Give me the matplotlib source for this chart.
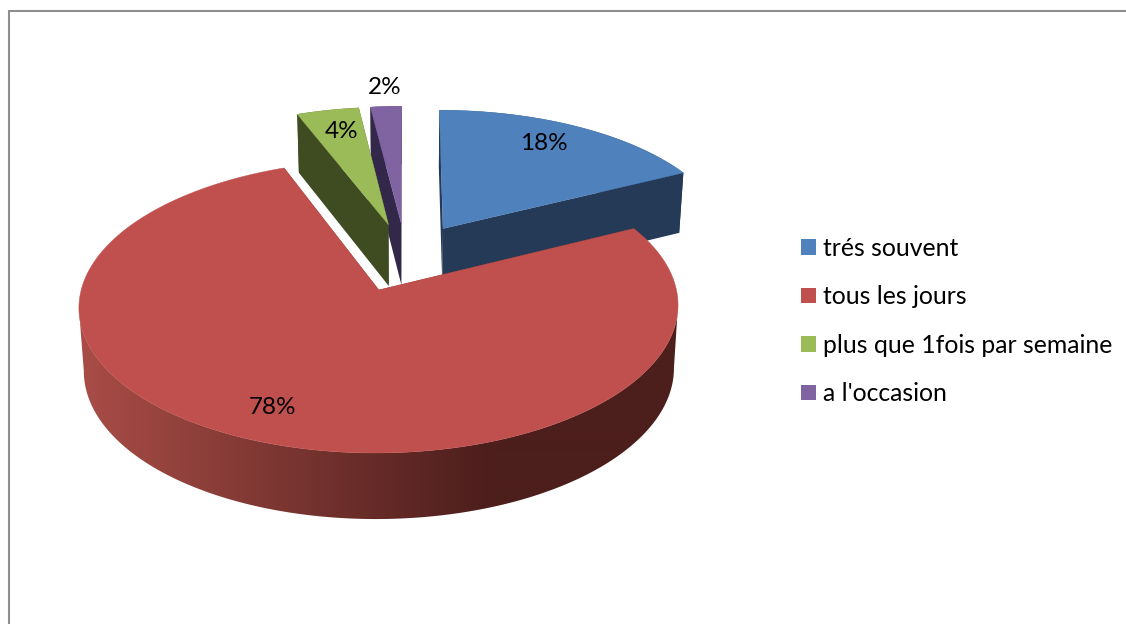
"""Exploded 3D pie of how often respondents do the activity."""

import matplotlib

matplotlib.use("Agg")

import matplotlib.pyplot as plt
import numpy as np
from matplotlib.patches import Patch, Polygon

categories = ["trés souvent", "tous les jours", "plus que 1fois par semaine", "a l'occasion"]
values = [18, 78, 4, 2]
percent_labels = ["18%", "78%", "4%", "2%"]

top_colors = ["#4F81BD", "#C0504D", "#9BBB59", "#8064A2"]
side_colors = ["#243A56", "#4E1F1D", "#3F4C22", "#34284A"]

# projection of the pie plane onto the pixel grid of the picture
CX, CY = 405.7, 257.1
RX, RY = 290.0, 137.3
PERSP = 0.11
EXPLODE = 0.25
DEPTH = 62.0
DEPTH_PERSP = 0.05
BOTTOM_SCALE = 0.985

LABEL_XY = [(544, 143), (272, 407), (342, 131), (385, 87)]

# red rim shading, pixel x against colour
SHADE_X = [85, 490, 690]
SHADE_R = [168, 76, 76]
SHADE_G = [76, 30, 30]
SHADE_B = [70, 28, 28]


def project(wx, wy):
    """Map pie-plane coordinates to pixel positions on the top face."""
    wx = np.asarray(wx, dtype=float)
    wy = np.asarray(wy, dtype=float)
    denom = 1 + PERSP * wy
    return CX + RX * wx / denom, CY - RY * wy / denom


def lower(wx, wy):
    """Same point on the bottom face of the disc."""
    x, y = project(wx, wy)
    return CX + (x - CX) * BOTTOM_SCALE, y + DEPTH / (1 + DEPTH_PERSP * np.asarray(wy))


def draw_slice(ax, start, end, top_color, side_color, shaded=False):
    mid = (start + end) / 2
    ax0 = EXPLODE * np.sin(mid)
    ay0 = EXPLODE * np.cos(mid)
    t = np.linspace(start, end, 480)
    rim_x = ax0 + np.sin(t)
    rim_y = ay0 + np.cos(t)

    # radial walls
    for edge in (0, -1):
        wx = np.array([ax0, rim_x[edge]])
        wy = np.array([ay0, rim_y[edge]])
        ux, uy = project(wx, wy)
        lx, ly = lower(wx, wy)
        pts = np.column_stack([np.r_[ux, lx[::-1]], np.r_[uy, ly[::-1]]])
        ax.add_patch(Polygon(pts, closed=True, fc=side_color, ec="none"))

    # outer rim
    ux, uy = project(rim_x, rim_y)
    lx, ly = lower(rim_x, rim_y)
    if shaded:
        # only the part between the two silhouette points faces the viewer
        i0, i1 = np.argmax(ux), np.argmin(ux) + 1
        rim_pts = np.column_stack(
            [np.r_[ux[i0:i1], lx[i0:i1][::-1]], np.r_[uy[i0:i1], ly[i0:i1][::-1]]]
        )
        rim = Polygon(rim_pts, closed=True, fc="none", ec="none")
        ax.add_patch(rim)
        xs = np.arange(60, 700)
        grad = np.column_stack(
            [
                np.interp(xs, SHADE_X, SHADE_R),
                np.interp(xs, SHADE_X, SHADE_G),
                np.interp(xs, SHADE_X, SHADE_B),
            ]
        )[None, :, :] / 255
        img = ax.imshow(grad, extent=(60, 700, 540, 200), aspect="auto", interpolation="bilinear")
        img.set_clip_path(rim)
    else:
        rim_pts = np.column_stack([np.r_[ux, lx[::-1]], np.r_[uy, ly[::-1]]])
        ax.add_patch(Polygon(rim_pts, closed=True, fc=side_color, ec="none"))

    # top face
    ax_px, ay_px = project([ax0], [ay0])
    pts = np.column_stack([np.r_[ax_px, ux], np.r_[ay_px, uy]])
    ax.add_patch(Polygon(pts, closed=True, fc=top_color, ec=top_color, lw=0.3, zorder=3))


fig = plt.figure(figsize=(11.26, 6.24), dpi=100)
ax = fig.add_axes([0, 0, 1, 1])
ax.axis("off")

ax.plot([8.5, 8.5, 1126], [624, 10.5, 10.5], color="#8E8E8E", lw=1.5, solid_joinstyle="miter")

fractions = np.array(values, dtype=float) / sum(values)
edges = np.r_[0, np.cumsum(fractions)] * 2 * np.pi

# back to front: blue, purple, green, red
for i in [0, 3, 2, 1]:
    draw_slice(ax, edges[i], edges[i + 1], top_colors[i], side_colors[i], shaded=i == 1)

ax.set_xlim(0, 1126)
ax.set_ylim(624, 0)

for text, (x, y) in zip(percent_labels, LABEL_XY):
    ax.text(x, y, text, fontsize=17.5, family="Lato", color="black", ha="center", va="center", zorder=5)

handles = [Patch(fc=c, ec=c, lw=0) for c in top_colors]
ax.legend(
    handles,
    categories,
    loc="center left",
    bbox_to_anchor=(801, 321),
    bbox_transform=ax.transData,
    frameon=False,
    prop={"family": "Lato", "size": 17.8},
    handlelength=0.6,
    handleheight=0.6,
    handletextpad=0.29,
    labelspacing=1.03,
    borderpad=0,
    borderaxespad=0,
)

fig.savefig("out.png", dpi=100)
